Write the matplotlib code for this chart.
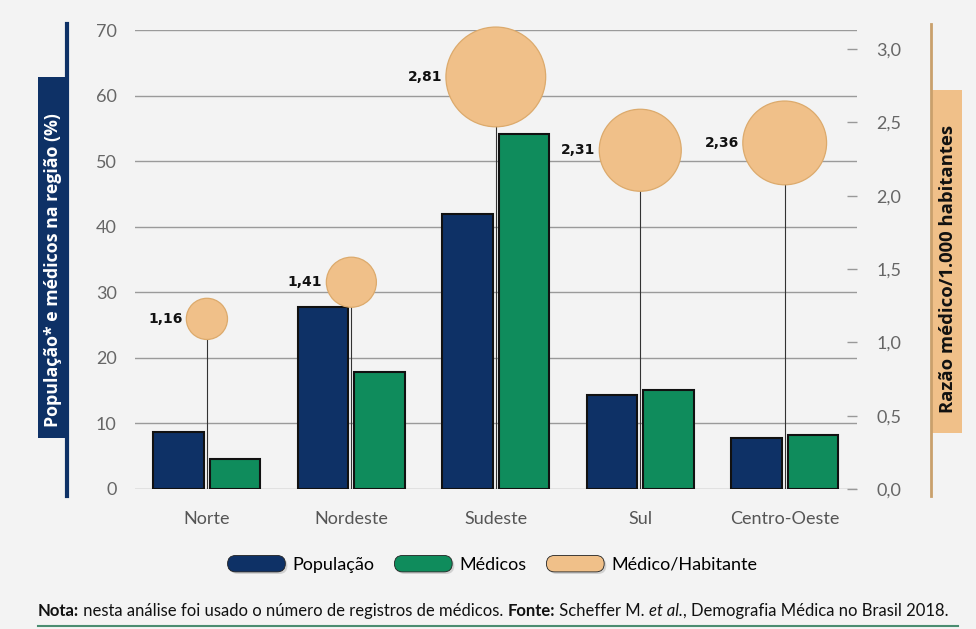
import matplotlib
matplotlib.use("Agg")
import matplotlib.pyplot as plt
import numpy as np
from matplotlib.legend_handler import HandlerPatch
from matplotlib.patches import FancyBboxPatch, Patch, Rectangle
from matplotlib.lines import Line2D
from matplotlib.ticker import FuncFormatter

# data
regioes = ['Norte', 'Nordeste', 'Sudeste', 'Sul', 'Centro-Oeste']
populacao = [8.7, 27.7, 41.9, 14.3, 7.7]
medicos = [4.6, 17.8, 54.1, 15.1, 8.2]
razao = [1.16, 1.41, 2.81, 2.31, 2.36]
razao_txt = ['1,16', '1,41', '2,81', '2,31', '2,36']

bg = '#f3f3f3'
navy = '#0e3166'
green = '#0f8c5c'
tan = '#f0c089'
gray_txt = '#666666'

plt.rcParams['font.family'] = ['Lato', 'DejaVu Sans']

fig = plt.figure(figsize=(9.76, 6.29), dpi=100, facecolor=bg)
ax = fig.add_axes([0.138, 0.2226, 0.74, 0.7297])
ax.set_facecolor(bg)

x = np.arange(len(regioes))
w = 0.35
gap = 0.02
ax.bar(x - w / 2 - gap, populacao, w, color=navy, edgecolor='#111111', linewidth=1.5, zorder=3)
ax.bar(x + w / 2 + gap, medicos, w, color=green, edgecolor='#111111', linewidth=1.5, zorder=3)

ax.set_xlim(-0.5, 4.5)
ax.set_ylim(0, 70)
ax.set_yticks(range(0, 71, 10))
ax.grid(axis='y', color='#9a9a9a', linewidth=1, zorder=0)
ax.set_axisbelow(True)
for s in ax.spines.values():
    s.set_visible(False)
ax.tick_params(axis='y', length=0, pad=13, labelsize=13, labelcolor=gray_txt)
ax.set_xticks(x)
ax.set_xticklabels(regioes)
ax.tick_params(axis='x', length=0, pad=16, labelsize=13, labelcolor='#555555')

# right axis: ratio
ax2 = ax.twinx()
ax2.set_ylim(0, 3.13)
ax2.set_yticks(np.arange(0, 3.01, 0.5))
ax2.yaxis.set_major_formatter(FuncFormatter(lambda v, p: f'{v:.1f}'.replace('.', ',')))
for s in ax2.spines.values():
    s.set_visible(False)
ax2.tick_params(axis='y', direction='in', length=7, width=1, color='#999999', pad=14,
                labelsize=13, labelcolor=gray_txt)

ax2.vlines(x, 0, razao, color='#333333', linewidth=0.8, zorder=1)
diam_px = [r * 35.5 for r in razao]
sizes = [(d * 0.72) ** 2 for d in diam_px]
ax2.scatter(x, razao, s=sizes, color=tan, edgecolor='#dcaa6c', linewidth=0.9, zorder=4, clip_on=False)
for xi, r, t, d in zip(x, razao, razao_txt, diam_px):
    ax2.annotate(t, (xi, r), xytext=(-(d / 2 + 4) * 0.72, 0), textcoords='offset points',
                 ha='right', va='center', fontsize=10, fontweight='bold', color='#111111',
                 family='DejaVu Sans')

# axis labels in boxes with vertical rules
fig.add_artist(Line2D([66.5 / 976, 66.5 / 976], [1 - 24 / 629, 1 - 496 / 629], color=navy, linewidth=3))
fig.add_artist(Rectangle((38 / 976, 1 - 438 / 629), 27 / 976, 361 / 629, transform=fig.transFigure,
                         facecolor=navy, edgecolor='none'))
fig.text(53 / 976, 1 - 270 / 629, 'População* e médicos na região (%)', rotation=90,
         rotation_mode='anchor', ha='center', va='center', color='white', fontsize=12.8,
         fontweight='bold', family='Open Sans')
fig.add_artist(Line2D([931 / 976, 931 / 976], [1 - 24 / 629, 1 - 496 / 629], color='#c9a06c', linewidth=2))
fig.add_artist(Rectangle((932 / 976, 1 - 433 / 629), 30 / 976, 343 / 629, transform=fig.transFigure,
                         facecolor=tan, edgecolor='none'))
fig.text(948 / 976, 1 - 269 / 629, 'Razão médico/1.000 habitantes', rotation=90,
         rotation_mode='anchor', ha='center', va='center', color='#111111', fontsize=13.3,
         fontweight='bold', family='Open Sans')


class PillHandler(HandlerPatch):
    def create_artists(self, legend, orig_handle, xdescent, ydescent, width, height, fontsize, trans):
        h = height * 1.3
        y0 = -ydescent + (height - h) / 2
        shadow = FancyBboxPatch((-xdescent + 1.5, y0 - 1.5), width, h,
                                boxstyle=f"round,pad=0,rounding_size={h / 2}",
                                facecolor='#bbbbbb', edgecolor='none', alpha=0.6, transform=trans)
        p = FancyBboxPatch((-xdescent, y0), width, h,
                           boxstyle=f"round,pad=0,rounding_size={h / 2}",
                           facecolor=orig_handle.get_facecolor(), edgecolor='#222222',
                           linewidth=0.6, transform=trans)
        return [shadow, p]


handles = [Patch(facecolor=navy), Patch(facecolor=green), Patch(facecolor=tan)]
labels = ['População', 'Médicos', 'Médico/Habitante']
fig.legend(handles, labels, loc='center', bbox_to_anchor=(0.5046, 1 - 565 / 629), ncol=3,
           frameon=False, fontsize=13, handlelength=3.2, handletextpad=0.4, columnspacing=1.1,
           handler_map={Patch: PillHandler()})

# footnote built from pieces
parts = [('Nota:', 'bold', 'normal'),
         (' nesta análise foi usado o número de registros de médicos. ', 'normal', 'normal'),
         ('Fonte:', 'bold', 'normal'),
         (' Scheffer M. ', 'normal', 'normal'),
         ('et al.', 'normal', 'italic'),
         (', Demografia Médica no Brasil 2018.', 'normal', 'normal')]
t = fig.text(38 / 976, 1 - 619 / 629, parts[0][0], fontsize=12, fontweight=parts[0][1],
             fontstyle=parts[0][2], ha='left', va='bottom', color='#111111')
for txt, wt, st in parts[1:]:
    t = ax.annotate(txt, xy=(1, 0), xycoords=t, ha='left', va='bottom', fontsize=12,
                    fontweight=wt, fontstyle=st, color='#111111', annotation_clip=False)

fig.add_artist(Line2D([38 / 976, 958 / 976], [1 - 626 / 629, 1 - 626 / 629], color='#4a8c70', linewidth=1.5))

fig.savefig('out.png', dpi=100, facecolor=bg)
